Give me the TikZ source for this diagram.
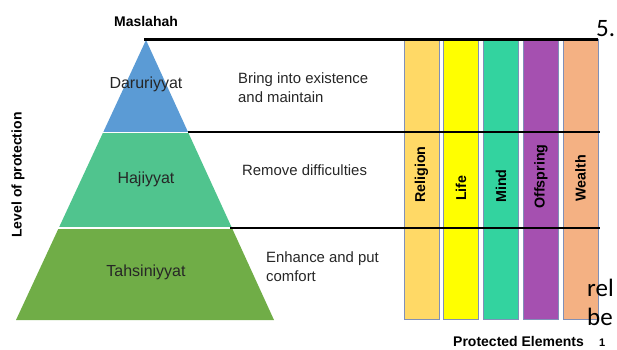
\documentclass[tikz,border=0pt]{standalone}
\usepackage{fontspec}
\setmainfont{Liberation Sans}
\newfontfamily\carl{Carlito}
\definecolor{darblue}{HTML}{5B9BD5}
\definecolor{hajgreen}{HTML}{50C48E}
\definecolor{tahgreen}{HTML}{70AD47}
\definecolor{relcol}{HTML}{FFD966}
\definecolor{lifecol}{HTML}{FFFF00}
\definecolor{mindcol}{HTML}{33D39F}
\definecolor{offcol}{HTML}{A550B0}
\definecolor{wealthcol}{HTML}{F4B183}
\definecolor{colborder}{HTML}{8090B8}
\definecolor{txt}{HTML}{262626}
\begin{document}
\begin{tikzpicture}[x=1pt,y=-1pt,
  colbox/.style={draw=colborder,line width=0.8pt,minimum width=35pt,minimum height=280pt,inner sep=0pt},
  collabel/.style={font=\fontsize{14.3}{16}\selectfont\bfseries,rotate=90,anchor=west,inner sep=0pt},
  plabel/.style={font=\fontsize{16}{18}\selectfont,text=txt},
  desc/.style={font=\fontsize{14.9}{18.5}\selectfont,text=txt,align=left,anchor=north west,inner sep=0pt},
  rule/.style={line width=2.6pt,black},
  sep/.style={white,line width=1.6pt}]
\useasboundingbox (0,0) rectangle (617,349);
% pyramid
\fill[darblue] (146,40) -- (188,132) -- (103.3,132) -- cycle;
\fill[hajgreen] (103.3,132) -- (188,132) -- (231.5,227) -- (59.2,227) -- cycle;
\fill[tahgreen] (59.2,227) -- (231.5,227) -- (274,320) -- (16,320) -- cycle;
\draw[sep] (100,132.5) -- (192,132.5);
\draw[sep] (55,227.8) -- (236,227.8);
\node[plabel] (dar) at (146,84) {Daruriyyat};
\node[plabel] (haj) at (146,179) {Hajiyyat};
\node[plabel] (tah) at (146,272) {Tahsiniyyat};
\node[font=\fontsize{14}{16}\selectfont\bfseries] (mas) at (146,21) {Maslahah};
\node[font=\fontsize{14}{16}\selectfont\bfseries,rotate=90] (lvl) at (18,175) {Level of protection};
% descriptions
\node[desc] (d1) at (238,72.5) {Bring into existence\\and maintain};
\node[desc] (d2) at (242,164.5) {Remove difficulties};
\node[desc] (d3) at (266,251.5) {Enhance and put\\comfort};
% columns
\node[colbox,fill=relcol] (rel) at (421.5,179) {};
\node[colbox,fill=lifecol] (life) at (461,179) {};
\node[colbox,fill=mindcol] (mind) at (501,179) {};
\node[colbox,fill=offcol] (off) at (541,179) {};
\node[colbox,fill=wealthcol] (wea) at (580.5,179) {};
\node[collabel] (lrel) at (421.5,203) {Religion};
\node[collabel] (llife) at (461,201) {Life};
\node[collabel] (lmind) at (501,203) {Mind};
\node[collabel] (loff) at (541,209) {Offspring};
\node[collabel] (lwea) at (580.5,202) {Wealth};
% rules
\coordinate (a0) at (144,39.5);
\coordinate (a1) at (598,39.5);
\coordinate (b0) at (188,132);
\coordinate (b1) at (600,132);
\coordinate (c0) at (230,228);
\coordinate (c1) at (600,228);
\draw[rule] (a0) -- (a1);
\draw[rule] (b0) -- (b1);
\draw[rule] (c0) -- (c1);
\node[font=\fontsize{14}{16}\selectfont\bfseries,anchor=base west,inner sep=0pt] (pe) at (453,346) {Protected Elements};
\node[font=\fontsize{11}{13}\selectfont\bfseries,anchor=base west,inner sep=0pt] (one) at (599,346.5) {1};
% stray text
\node[font=\carl\fontsize{25}{27}\selectfont,anchor=base west,inner sep=0pt] (five) at (596,36) {5.};
\node[font=\carl\fontsize{25}{27}\selectfont,anchor=base west,inner sep=0pt] (srel) at (587,296) {rel};
\node[font=\carl\fontsize{25}{27}\selectfont,anchor=base west,inner sep=0pt] (sbe) at (587,325) {be};
\end{tikzpicture}
\end{document}
